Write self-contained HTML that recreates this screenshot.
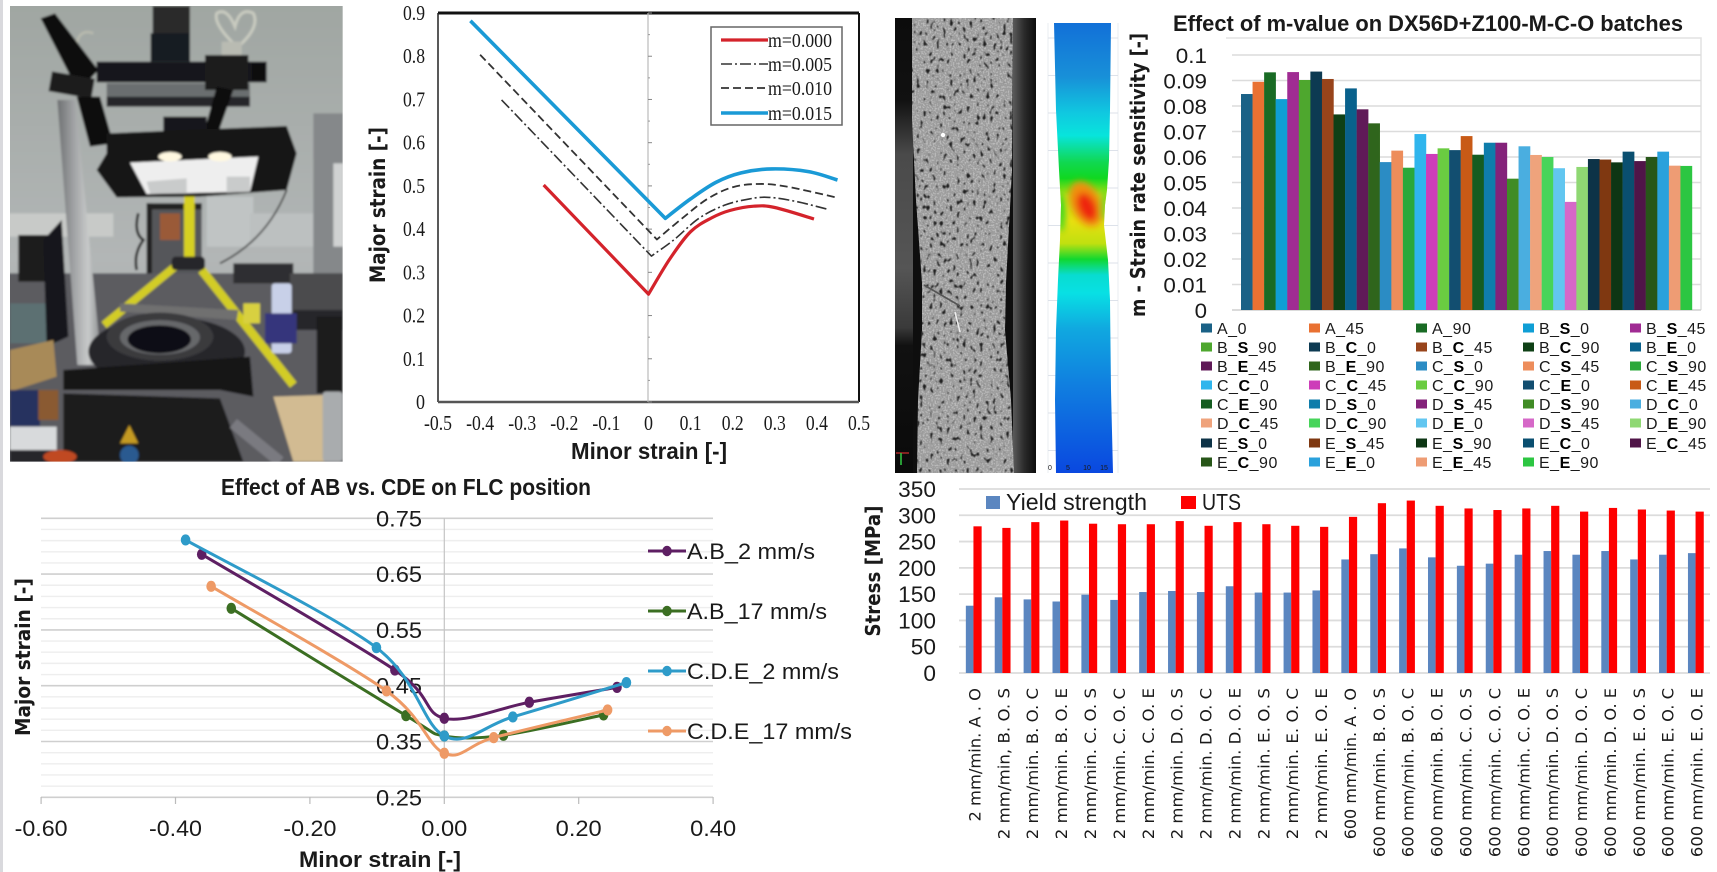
<!DOCTYPE html>
<html lang="en">
<head>
<meta charset="utf-8">
<title>Strain rate sensitivity and FLC figure</title>
<style>
html,body{margin:0;padding:0;background:#fff;width:1717px;height:872px;overflow:hidden}
svg{display:block}
text{font-family:"Liberation Sans",sans-serif;fill:#1a1a1a}
.serif{font-family:"Liberation Serif",serif}
.dj{font-family:"DejaVu Sans",sans-serif}
</style>
</head>
<body>
<svg id="fig" xmlns="http://www.w3.org/2000/svg" width="1717" height="872" viewBox="0 0 1717 872">
<defs>
<filter id="blur1" x="-5%" y="-5%" width="110%" height="110%"><feGaussianBlur stdDeviation="3.2"/></filter>
<filter id="blurHeat" x="-50%" y="-50%" width="200%" height="200%"><feGaussianBlur stdDeviation="3.5"/></filter>
<filter id="speck" x="0" y="0" width="100%" height="100%" color-interpolation-filters="sRGB">
<feTurbulence type="fractalNoise" baseFrequency="0.3 0.19" numOctaves="1" seed="7"/>
<feColorMatrix type="matrix" values="0 0 0 0 0.12  0 0 0 0 0.12  0 0 0 0 0.12  13 0 0 0 -8"/>
<feGaussianBlur stdDeviation="0.5"/>
</filter>
<filter id="grain" x="0" y="0" width="100%" height="100%" color-interpolation-filters="sRGB">
<feTurbulence type="fractalNoise" baseFrequency="0.6" numOctaves="1" seed="3"/>
<feColorMatrix type="matrix" values="0 0 0 0 0.95  0 0 0 0 0.95  0 0 0 0 0.95  5 0 0 0 -2.3"/>
</filter>
<linearGradient id="colGrad" x1="0" x2="1" y1="0" y2="0"><stop offset="0" stop-color="#6e7072"/><stop offset=".35" stop-color="#9ea0a2"/><stop offset=".7" stop-color="#c8caca"/><stop offset="1" stop-color="#85878a"/></linearGradient>
<linearGradient id="wallGrad" x1="0" x2="0" y1="0" y2="1"><stop offset="0" stop-color="#a0a6a2"/><stop offset=".55" stop-color="#b2b6b6"/><stop offset="1" stop-color="#a0a2a2"/></linearGradient>
<linearGradient id="heatGrad" x1="0" x2="0" y1="0" y2="1">
<stop offset="0" stop-color="#1270d8"/><stop offset=".12" stop-color="#1890d8"/><stop offset=".2" stop-color="#10c8e0"/><stop offset=".25" stop-color="#08e4dc"/><stop offset=".31" stop-color="#10d850"/><stop offset=".345" stop-color="#10d820"/><stop offset=".385" stop-color="#b8e010"/><stop offset=".44" stop-color="#e8e010"/><stop offset=".49" stop-color="#c0e010"/><stop offset=".525" stop-color="#10d830"/><stop offset=".56" stop-color="#08dcd0"/><stop offset=".6" stop-color="#08e0e4"/><stop offset=".68" stop-color="#10a8e0"/><stop offset=".8" stop-color="#1080e0"/><stop offset="1" stop-color="#0a48e0"/>
</linearGradient>
<linearGradient id="spLeft" x1="0" x2="0" y1="0" y2="1"><stop offset="0" stop-color="#0c0c0c"/><stop offset=".18" stop-color="#111"/><stop offset=".3" stop-color="#4a4a4a"/><stop offset=".55" stop-color="#555"/><stop offset=".68" stop-color="#3a3a3a"/><stop offset=".72" stop-color="#111"/><stop offset="1" stop-color="#0a0a0a"/></linearGradient>
<linearGradient id="spRight" x1="0" x2="1" y1="0" y2="0"><stop offset="0" stop-color="#5a5a5a"/><stop offset=".5" stop-color="#2a2a2a"/><stop offset="1" stop-color="#0c0c0c"/></linearGradient>
<clipPath id="photoClip"><rect x="30" y="18" width="998" height="1367"/></clipPath>
<clipPath id="specimenClip"><polygon points="912,18 1013,18 1012,170 1006,283 1005,330 1011,400 1014,473 917,473 918,400 922,330 922,283 916,200 912,120"/></clipPath>
<clipPath id="heatClip"><polygon points="1054,23 1111,23 1110,110 1109,160 1107,190 1105,205 1104,225 1108,260 1110,300 1111,390 1113,473 1056,473 1055,400 1056,330 1058,280 1060,240 1061,205 1059,170 1056,110"/></clipPath>
</defs>

<rect x="0" y="0" width="1717" height="872" fill="#fff"/>
<rect x="0" y="0" width="3" height="872" fill="#d9d9dd"/>

<!-- Photo of the test rig, painted from shapes. Coordinates are in 3x units. -->
<g transform="scale(0.33333)">
<g clip-path="url(#photoClip)"><g filter="url(#blur1)">
<rect x="20" y="10" width="1020" height="1390" fill="url(#wallGrad)"/>
<rect x="20" y="640" width="320" height="70" fill="#c8cac8"/>
<rect x="620" y="590" width="140" height="150" fill="#c0c4c4"/>
<rect x="750" y="640" width="190" height="100" fill="#bcc0c0"/>
<rect x="940" y="340" width="90" height="520" fill="#85888a"/>
<rect x="1000" y="490" width="30" height="250" fill="#d0d2d2"/>
<rect x="440" y="610" width="165" height="215" fill="#55565a"/>
<rect x="440" y="610" width="165" height="18" fill="#202022"/>
<rect x="440" y="610" width="16" height="215" fill="#202022"/>
<rect x="480" y="640" width="60" height="80" fill="#9a5a38"/>
<path d="M415,640 Q400,700 430,720 Q400,760 410,810" fill="none" stroke="#222" stroke-width="8"/>
<path d="M660,790 Q800,720 860,570" fill="none" stroke="#333" stroke-width="5"/>
<rect x="20" y="820" width="1010" height="580" fill="#5c5c60"/>
<rect x="55" y="705" width="130" height="140" fill="#1c1c1e"/>
<rect x="30" y="910" width="140" height="120" fill="#5c7072"/>
<polygon points="172,300 226,300 305,1095 232,1095" fill="url(#colGrad)"/>
<polygon points="130,720 185,660 205,1010 140,1040" fill="#17171a"/>
<rect x="700" y="790" width="180" height="60" fill="#2e2e30"/>
<rect x="870" y="820" width="160" height="120" fill="#4b4b4e"/>
<rect x="880" y="930" width="150" height="60" fill="#26262a"/>
<rect x="950" y="950" width="78" height="230" fill="#1c1c1e"/>
<path d="M700,130 Q640,70 650,40 Q680,20 705,80 Q720,20 760,40 Q780,80 720,135" fill="none" stroke="#c8cabf" stroke-width="9"/>
<rect x="665" y="125" width="60" height="45" fill="#b9bbb2"/>
<path d="M230,130 Q240,85 280,100" fill="none" stroke="#b8baae" stroke-width="8"/>
<rect x="458" y="18" width="112" height="85" fill="#2a2a2c"/>
<rect x="452" y="100" width="118" height="85" fill="#161a22"/>
<polygon points="122,55 165,40 295,210 235,275" fill="#111"/>
<rect x="150" y="225" width="130" height="60" fill="#1a1a1c" transform="rotate(10 215 255)"/>
<rect x="290" y="185" width="510" height="62" fill="#17171a"/>
<rect x="320" y="250" width="430" height="40" fill="#6a6e70"/>
<rect x="320" y="290" width="430" height="30" fill="#26262a"/>
<rect x="615" y="165" width="130" height="105" fill="#1c1c1e"/>
<rect x="755" y="190" width="40" height="50" fill="#111"/>
<polygon points="650,260 700,270 640,440 600,440" fill="#111"/>
<polygon points="230,290 300,290 340,430 270,440" fill="#111"/>
<rect x="490" y="350" width="130" height="60" fill="#17171a"/>
<polygon points="320,400 860,378 890,460 860,570 600,590 350,592 290,510 320,460" fill="#141416"/>
<polygon points="390,488 775,470 750,575 440,582" fill="#eeeeee"/>
<polygon points="440,545 560,535 560,580 450,580" fill="#c9cbcb"/>
<polygon points="680,530 750,530 750,575 680,578" fill="#c9cbcb"/>
<ellipse cx="510" cy="470" rx="35" ry="14" fill="#fff8e0"/>
<ellipse cx="660" cy="470" rx="35" ry="14" fill="#fff8e0"/>
<rect x="552" y="590" width="32" height="185" fill="#d6d020"/>
<line x1="525" y1="800" x2="312" y2="975" stroke="#d2cc28" stroke-width="24"/>
<line x1="605" y1="810" x2="880" y2="1155" stroke="#d2cc28" stroke-width="26"/>
<rect x="515" y="770" width="100" height="40" rx="12" fill="#26262a"/>
<polygon points="360,910 715,930 710,960 360,935" fill="#707070"/>
<rect x="815" y="850" width="60" height="210" rx="10" fill="#c8d0e8"/>
<rect x="795" y="940" width="95" height="90" fill="#34347c"/>
<rect x="730" y="910" width="50" height="60" fill="#d8d040"/>
<ellipse cx="500" cy="1055" rx="235" ry="105" fill="#26262a"/>
<ellipse cx="480" cy="1010" rx="160" ry="72" fill="#3a3a3e"/>
<ellipse cx="480" cy="1012" rx="120" ry="52" fill="#66676a"/>
<ellipse cx="478" cy="1018" rx="95" ry="42" fill="#111114"/>
<polygon points="30,1050 160,1020 170,1130 30,1175" fill="#a88a58"/>
<polygon points="190,1110 750,1070 760,1190 660,1170 190,1170" fill="#161618"/>
<path d="M190,1180 L660,1195 L730,1385 L190,1385 Z" fill="#1b1b1e"/>
<polygon points="820,1190 970,1185 975,1385 880,1385" fill="#d2bb92"/>
<line x1="700" y1="1270" x2="840" y2="1385" stroke="#7a7a80" stroke-width="34"/>
<rect x="968" y="1175" width="60" height="210" rx="10" fill="#a9acae"/>
<rect x="30" y="1170" width="90" height="110" fill="#25305e"/>
<rect x="115" y="1170" width="60" height="90" fill="#8a5a30"/>
<rect x="30" y="1280" width="140" height="70" fill="#d8dadc"/>
<rect x="30" y="1350" width="160" height="40" fill="#26262a"/>
<ellipse cx="180" cy="1370" rx="50" ry="20" fill="#c04a20"/>
<polygon points="388,1275 415,1330 360,1330" fill="#c49a24"/>
<circle cx="388" cy="1365" r="28" fill="#2a5a90"/>
</g></g>
</g>

<!-- FLC simulated chart -->
<g id="flcModel">
<line x1="438" y1="13" x2="859" y2="13" stroke="#111" stroke-width="3"/>
<line x1="859" y1="13" x2="859" y2="402" stroke="#111" stroke-width="2"/>
<line x1="438" y1="13" x2="438" y2="402" stroke="#222" stroke-width="1.5"/>
<line x1="438" y1="402" x2="859" y2="402" stroke="#555" stroke-width="2.5"/>
<line x1="648" y1="13" x2="648" y2="402" stroke="#bbb" stroke-width="1.2"/>
<text class="dj" font-weight="700" font-size="21" transform="translate(385,205) rotate(-90)" text-anchor="middle" textLength="156" lengthAdjust="spacingAndGlyphs">Major strain [-]</text>
<text font-weight="700" font-size="23" x="649" y="459" text-anchor="middle" textLength="156" lengthAdjust="spacingAndGlyphs">Minor strain [-]</text>
<rect x="711" y="27" width="131" height="98" fill="#fff" stroke="#666" stroke-width="1.5"/>
</g>

<!-- DIC speckle image -->
<g>
<rect x="895" y="18" width="141" height="455" fill="#0e0e0e"/>
<rect x="895" y="18" width="18" height="455" fill="url(#spLeft)"/>
<rect x="1013" y="18" width="23" height="455" fill="url(#spRight)"/>
<polygon points="912,18 1013,18 1012,170 1006,283 1005,330 1011,400 1014,473 917,473 918,400 922,330 922,283 916,200 912,120" fill="#9c9c9c"/>
<g clip-path="url(#specimenClip)">
<rect x="905" y="18" width="115" height="455" filter="url(#grain)" opacity=".35"/>
<rect x="905" y="18" width="115" height="455" filter="url(#speck)"/>
<line x1="924" y1="285" x2="960" y2="306" stroke="#555" stroke-width="1.6"/>
<line x1="955" y1="312" x2="960" y2="332" stroke="#eee" stroke-width="1.5"/>
<circle cx="943" cy="135" r="2.2" fill="#fff"/>
</g>
<line x1="896" y1="453" x2="909" y2="453" stroke="#d03030" stroke-width="1.2"/>
<line x1="901" y1="453" x2="901" y2="465" stroke="#30c040" stroke-width="1.6"/>
</g>

<!-- Strain heat map -->
<g>
<line x1="1048" y1="23" x2="1048" y2="473" stroke="#e8ecf2" stroke-width="1"/>
<line x1="1118" y1="23" x2="1118" y2="473" stroke="#e8ecf2" stroke-width="1"/>
<g id="heatGridLines"></g>
<polygon points="1054,23 1111,23 1110,110 1109,160 1107,190 1105,205 1104,225 1108,260 1110,300 1111,390 1113,473 1056,473 1055,400 1056,330 1058,280 1060,240 1061,205 1059,170 1056,110" fill="url(#heatGrad)"/>
<g clip-path="url(#heatClip)"><g filter="url(#blurHeat)">
<ellipse cx="1086" cy="204" rx="15" ry="24" fill="#f09010" transform="rotate(-25 1086 204)"/>
<ellipse cx="1087" cy="207" rx="9" ry="15" fill="#ee2808" transform="rotate(-25 1087 207)"/>
<ellipse cx="1061" cy="212" rx="4" ry="20" fill="#30d820"/>
<ellipse cx="1104" cy="206" rx="3" ry="16" fill="#50d820"/>
</g></g>
<text font-size="7" x="1050" y="470" text-anchor="middle" fill="#666">0</text>
<text font-size="7" x="1068" y="470" text-anchor="middle" fill="#333">5</text>
<text font-size="7" x="1087" y="470" text-anchor="middle" fill="#333">10</text>
<text font-size="7" x="1104" y="470" text-anchor="middle" fill="#333">15</text>
</g>

<!-- m-value bar chart -->
<g id="mBars">
<text font-weight="700" font-size="22" x="1428" y="31" text-anchor="middle" textLength="510" lengthAdjust="spacingAndGlyphs">Effect of m-value on DX56D+Z100-M-C-O batches</text>
<text class="dj" font-weight="700" font-size="20" transform="translate(1145,175) rotate(-90)" text-anchor="middle" textLength="284" lengthAdjust="spacingAndGlyphs">m - Strain rate sensitivity [-]</text>
<polyline points="1226,38 1701,38 1701,310" fill="none" stroke="#e2e2e2" stroke-width="1.5"/>
</g>

<!-- FLC experimental chart -->
<g id="flcExp">
<text font-weight="700" font-size="23" x="406" y="495" text-anchor="middle" textLength="370" lengthAdjust="spacingAndGlyphs">Effect of AB vs. CDE on FLC position</text>
<text class="dj" font-weight="700" font-size="20" transform="translate(30,657) rotate(-90)" text-anchor="middle" textLength="158" lengthAdjust="spacingAndGlyphs">Major strain [-]</text>
<text font-weight="700" font-size="22" x="380" y="867" text-anchor="middle" textLength="162" lengthAdjust="spacingAndGlyphs">Minor strain [-]</text>
</g>

<!-- Stress bar chart -->
<g id="stress">
<text class="dj" font-weight="700" font-size="20" transform="translate(880,571) rotate(-90)" text-anchor="middle" textLength="131" lengthAdjust="spacingAndGlyphs">Stress [MPa]</text>
</g>

<script>
// ---- Chart data -------------------------------------------------------
const flcModelXTicks = ['-0.5','-0.4','-0.3','-0.2','-0.1','0','0.1','0.2','0.3','0.4','0.5'];
const flcModelYTicks = ['0','0.1','0.2','0.3','0.4','0.5','0.6','0.7','0.8','0.9'];
const flcModelNames = ['m=0.000','m=0.005','m=0.010','m=0.015'];
const m000x = [-0.249,0,0.05,0.1,0.15,0.193,0.25,0.3,0.393];
const m000y = [0.502,0.2495,0.33,0.394,0.426,0.443,0.453,0.45,0.4235];
const m005x = [-0.349,0.007,0.06,0.12,0.18,0.24,0.287,0.353,0.423];
const m005y = [0.699,0.3376,0.375,0.425,0.455,0.47,0.4735,0.4635,0.4465];
const m010x = [-0.4,0.02,0.08,0.14,0.2,0.26,0.327,0.449];
const m010y = [0.8035,0.376,0.425,0.47,0.497,0.5045,0.4985,0.4727];
const m015x = [-0.423,0.04,0.1,0.16,0.22,0.293,0.38,0.449];
const m015y = [0.882,0.4249,0.47,0.508,0.53,0.5394,0.533,0.5137];

const mBarTicks = ['0','0.01','0.02','0.03','0.04','0.05','0.06','0.07','0.08','0.09','0.1'];
const mBarCategories = ['A_0','A_45','A_90','B_S_0','B_S_45','B_S_90','B_C_0','B_C_45','B_C_90','B_E_0','B_E_45','B_E_90','C_S_0','C_S_45','C_S_90','C_C_0','C_C_45','C_C_90','C_E_0','C_E_45','C_E_90','D_S_0','D_S_45','D_S_90','D_C_0','D_C_45','D_C_90','D_E_0','D_S_45','D_E_90','E_S_0','E_S_45','E_S_90','E_C_0','E_C_45','E_C_90','E_E_0','E_E_45','E_E_90'];
const mBarValues = [0.0847,0.0895,0.0932,0.0827,0.0933,0.0902,0.0935,0.0906,0.0767,0.0869,0.0787,0.0732,0.058,0.0625,0.0558,0.069,0.0612,0.0634,0.0627,0.0682,0.0609,0.0656,0.0656,0.0515,0.0642,0.0608,0.06,0.0556,0.0424,0.0561,0.0592,0.059,0.0579,0.0621,0.0584,0.06,0.0621,0.0566,0.0565];
const mBarColors = ['#1a6186','#e97132','#196b24','#0f9ed5','#a02b93','#4ea72e','#0d3a52','#98441b','#0f4016','#09618c','#601a58','#2f651c','#2b8cc4','#ed8d5b','#2aa83a','#2fb5ed','#cd3db9','#6acc41','#124e70','#c85a16','#155c20','#0f7dab','#84227a','#408c26','#4aaee0','#efa37c','#47d45a','#62c6f0','#d668c8','#8fd873','#0d3347','#7f3811','#0d3614','#0a4f70','#501548','#275618','#2aa1dc','#ee9c74','#2cc642'];

const expXTicks = ['-0.60','-0.40','-0.20','0.00','0.20','0.40'];
const expYTicks = ['0.25','0.35','0.45','0.55','0.65','0.75'];
const expNames = ['A.B_2 mm/s','A.B_17 mm/s','C.D.E_2 mm/s','C.D.E_17 mm/s'];
const ab2x = [-0.361,-0.0735,0,0.1265,0.257];
const ab2y = [0.6855,0.478,0.3916,0.4203,0.447];
const ab17x = [-0.317,-0.057,0,0.088,0.237];
const ab17y = [0.5887,0.3964,0.3599,0.3611,0.3976];
const cde2x = [-0.385,-0.101,0,0.102,0.271];
const cde2y = [0.7112,0.5182,0.3599,0.394,0.4555];
const cde17x = [-0.347,-0.086,0,0.0735,0.243];
const cde17y = [0.6281,0.4406,0.3289,0.3569,0.4065];

const stressTicks = ['0','50','100','150','200','250','300','350'];
const stressCategories = ['2 mm/min. A . O','2 mm/min, B. O. S','2 mm/min. B. O. C','2 mm/min. B. O. E','2 mm/min. C. O. S','2 mm/min. C. O. C','2 mm/min. C. O. E','2 mm/min. D. O. S','2 mm/min. D. O. C','2 mm/min. D. O. E','2 mm/min. E. O. S','2 mm/min. E. O. C','2 mm/min. E. O. E','600 mm/min. A . O','600 mm/min. B. O. S','600 mm/min. B. O. C','600 mm/min. B. O. E','600 mm/min. C. O. S','600 mm/min. C. O. C','600 mm/min. C. O. E','600 mm/min. D. O. S','600 mm/min. D. O. C','600 mm/min. D. O. E','600 mm/min. E. O. S','600 mm/min. E. O. C','600 mm/min. E. O. E'];
const yieldValues = [128,144,140,136,149,139,154,156,154,165,153,153,157,216,226,237,220,204,208,225,232,225,232,216,225,228];
const utsValues = [279,276,287,290,284,283,283,289,280,287,283,280,278,297,323,328,318,313,310,313,318,307,314,311,309,307];

// ---- Helpers ----------------------------------------------------------
const NS = 'http://www.w3.org/2000/svg';
function mk(tag, parent, attrs) {
  const node = document.createElementNS(NS, tag);
  for (const k in attrs) node.setAttribute(k, attrs[k]);
  parent.appendChild(node);
  return node;
}
function spline(pts, tension) {
  let d = '';
  for (let i = 0; i < pts.length - 1; i++) {
    const p0 = pts[Math.max(i - 1, 0)], p1 = pts[i], p2 = pts[i + 1], p3 = pts[Math.min(i + 2, pts.length - 1)];
    const c1x = p1[0] + (p2[0] - p0[0]) * tension, c1y = p1[1] + (p2[1] - p0[1]) * tension;
    const c2x = p2[0] - (p3[0] - p1[0]) * tension, c2y = p2[1] - (p3[1] - p1[1]) * tension;
    d += ' C' + c1x.toFixed(1) + ',' + c1y.toFixed(1) + ' ' + c2x.toFixed(1) + ',' + c2y.toFixed(1) + ' ' + p2[0].toFixed(1) + ',' + p2[1].toFixed(1);
  }
  return d;
}

// ---- Heatmap faint grid ----------------------------------------------
(function () {
  const g = document.getElementById('heatGridLines');
  for (let i = 0; i < 12; i++) {
    const ln = mk('line', g, { x1: 1048, x2: 1118, y1: 38 + i * 37.5, y2: 38 + i * 37.5, stroke: '#dde2ea', 'stroke-width': 1 });
    
    
  }
})();

// ---- FLC model chart --------------------------------------------------
(function () {
  const g = document.getElementById('flcModel');
  const sx = v => 648.5 + v * 421;
  const sy = v => 402 - v * 432.2;
  flcModelYTicks.forEach(t => {
    const y = sy(parseFloat(t));
    const tick = mk('line', g, { x1: 648, x2: 652, y1: y, y2: y, stroke: '#888', 'stroke-width': 1 });
    
    
    const half = mk('line', g, { x1: 648, x2: 650, y1: y - 21.6, y2: y - 21.6, stroke: '#999', 'stroke-width': 1 });
    
    
    const lab = mk('text', g, { x: 425, y: y + 7, 'text-anchor': 'end', 'font-size': 21, class: 'serif', textLength: t.length > 1 ? 22 : 9, lengthAdjust: 'spacingAndGlyphs' });
    lab.textContent = t;
    
    
  });
  flcModelXTicks.forEach(t => {
    const x = sx(parseFloat(t));
    const w = t.length > 3 ? 28 : (t.length > 1 ? 22 : 9);
    const lab = mk('text', g, { x: x, y: 430, 'text-anchor': 'middle', 'font-size': 21, class: 'serif', textLength: w, lengthAdjust: 'spacingAndGlyphs' });
    lab.textContent = t;
    
    
  });
  const styles = [
    { stroke: '#d4232b', w: 3.2, dash: '' },
    { stroke: '#333', w: 1.6, dash: '11 3 2 3' },
    { stroke: '#333', w: 1.8, dash: '8 4' },
    { stroke: '#1a9ad6', w: 3.6, dash: '' }
  ];
  const xs = [m000x, m005x, m010x, m015x];
  const ys = [m000y, m005y, m010y, m015y];
  xs.forEach((xv, i) => {
    const pts = xv.map((v, j) => [sx(v), sy(ys[i][j])]);
    // Each curve is a straight run into the plane-strain cusp, then a smooth arc.
    const d = 'M' + pts[0][0] + ',' + pts[0][1] + ' L' + pts[1][0] + ',' + pts[1][1] + spline(pts.slice(1), 0.17);
    const line = mk('path', g, { d: d, fill: 'none', stroke: styles[i].stroke, 'stroke-width': styles[i].w, 'stroke-dasharray': styles[i].dash, 'stroke-linejoin': 'round' });
    
    
    const ly = [40, 64, 88, 113][i];
    const key = mk('line', g, { x1: 721, x2: 768, y1: ly, y2: ly, stroke: styles[i].stroke, 'stroke-width': styles[i].w, 'stroke-dasharray': styles[i].dash });
    
    
    const lab = mk('text', g, { x: 768, y: ly + 7, 'font-size': 20, class: 'serif', textLength: 64, lengthAdjust: 'spacingAndGlyphs' });
    lab.textContent = flcModelNames[i];
    
    
  });
})();

// ---- m-value bars -----------------------------------------------------
(function () {
  const g = document.getElementById('mBars');
  const y0 = 310, unit = 2550;
  const sy = v => y0 - v * unit;
  const left = 1241, bw = (1692 - 1241) / mBarValues.length;
  mBarTicks.forEach(t => {
    const y = sy(parseFloat(t));
    const grid = mk('line', g, { x1: 1232, x2: 1701, y1: y, y2: y, stroke: t === '0' ? '#cfcfcf' : '#dcdcdc', 'stroke-width': 1.6 });
    
    
    const w = 12.4 * t.length + (t.length > 1 ? -6 : 0);
    const lab = mk('text', g, { x: 1207, y: y + 8, 'text-anchor': 'end', 'font-size': 21, textLength: w, lengthAdjust: 'spacingAndGlyphs' });
    lab.textContent = t;
    
    
  });
  mBarValues.forEach((v, i) => {
    const bar = mk('rect', g, { x: left + i * bw, y: sy(v), width: bw + 0.2, height: v * unit, fill: mBarColors[i] });
    
    
  });
  const colX = [1201, 1309, 1416, 1523, 1630];
  const rowY = [328, 347, 366, 385, 404, 423, 443, 462];
  mBarCategories.forEach((name, i) => {
    const cx = colX[i % 5], cy = rowY[Math.floor(i / 5)];
    const sw = mk('rect', g, { x: cx, y: cy - 4.5, width: 11, height: 9, fill: mBarColors[i] });
    
    
    const lab = mk('text', g, { x: cx + 16, y: cy + 6, 'font-size': 16, 'letter-spacing': 0.5, fill: '#333' });
    
    
    const parts = name.split('_');
    if (parts.length === 3) {
      mk('tspan', lab, {}).textContent = parts[0] + '_';
      mk('tspan', lab, { 'font-weight': 700, fill: '#000' }).textContent = parts[1];
      mk('tspan', lab, {}).textContent = '_' + parts[2];
    } else {
      lab.textContent = name;
    }
  });
})();

// ---- FLC experimental -------------------------------------------------
(function () {
  const g = document.getElementById('flcExp');
  const sx = v => 444.3 + v * 672;
  const sy = v => 797.3 - (v - 0.25) * 558;
  for (let k = 0; k <= 25; k++) {
    const v = 0.25 + k * 0.02;
    const major = k % 5 === 0;
    const grid = mk('line', g, { x1: 41, x2: 713, y1: sy(v), y2: sy(v), stroke: major ? '#cfcfcf' : '#eeeeee', 'stroke-width': major ? 1.6 : 1.4 });
    
    
  }
  const axis = mk('line', g, { x1: 444.3, x2: 444.3, y1: sy(0.75), y2: sy(0.25), stroke: '#c4c4c4', 'stroke-width': 1.2 });
  
  
  expXTicks.forEach(t => {
    const x = sx(parseFloat(t));
    const tick = mk('line', g, { x1: x, x2: x, y1: 797, y2: 804, stroke: '#bbb', 'stroke-width': 1.2 });
    
    
    const lab = mk('text', g, { x: x, y: 836, 'text-anchor': 'middle', 'font-size': 22, textLength: t.length > 4 ? 53 : 46, lengthAdjust: 'spacingAndGlyphs', fill: '#333' });
    lab.textContent = t;
    
    
  });
  expYTicks.forEach(t => {
    const y = sy(parseFloat(t));
    const lab = mk('text', g, { x: 422, y: y + 8, 'text-anchor': 'end', 'font-size': 22, textLength: 46, lengthAdjust: 'spacingAndGlyphs', fill: '#333' });
    lab.textContent = t;
    
    
  });
  const colors = ['#5e1f63', '#3b6e22', '#2e9bc9', '#ee9a66'];
  const xs = [ab2x, ab17x, cde2x, cde17x];
  const ys = [ab2y, ab17y, cde2y, cde17y];
  const legendY = [551, 611, 671, 731];
  const legendW = [128, 140, 152, 165];
  xs.forEach((xv, i) => {
    const pts = xv.map((v, j) => [sx(v), sy(ys[i][j])]);
    const line = mk('path', g, { d: 'M' + pts[0][0] + ',' + pts[0][1] + spline(pts, 0.16), fill: 'none', stroke: colors[i], 'stroke-width': 3 });
    
    
    pts.forEach(p => {
      const dot = mk('ellipse', g, { cx: p[0], cy: p[1], rx: 4.8, ry: 5.6, fill: colors[i] });
      
      
    });
    const key = mk('line', g, { x1: 648, x2: 686, y1: legendY[i], y2: legendY[i], stroke: colors[i], 'stroke-width': 3 });
    
    
    const kd = mk('ellipse', g, { cx: 667, cy: legendY[i], rx: 4.8, ry: 5.2, fill: colors[i] });
    
    
    const lab = mk('text', g, { x: 687, y: legendY[i] + 8, 'font-size': 22, textLength: legendW[i], lengthAdjust: 'spacingAndGlyphs', fill: '#333' });
    lab.textContent = expNames[i];
    
    
  });
})();

// ---- Stress bars ------------------------------------------------------
(function () {
  const g = document.getElementById('stress');
  const y0 = 673, unit = 184 / 350;
  const sy = v => y0 - v * unit;
  const left = 959, step = (1710 - 959) / stressCategories.length;
  stressTicks.forEach(t => {
    const y = sy(parseFloat(t));
    const grid = mk('line', g, { x1: 959, x2: 1710, y1: y, y2: y, stroke: '#dcdcdc', 'stroke-width': 1.8 });
    
    
    const lab = mk('text', g, { x: 936, y: y + 8, 'text-anchor': 'end', 'font-size': 22, textLength: t.length * 12.6, lengthAdjust: 'spacingAndGlyphs', fill: '#222' });
    lab.textContent = t;
    
    
  });
  stressCategories.forEach((name, i) => {
    const c = left + (i + 0.5) * step;
    const by = mk('rect', g, { x: c - 7.6, y: sy(yieldValues[i]), width: 7.6, height: yieldValues[i] * unit, fill: '#5b86c0' });
    
    
    const bu = mk('rect', g, { x: c, y: sy(utsValues[i]), width: 8.2, height: utsValues[i] * unit, fill: '#fe0000' });
    
    
    const lab = mk('text', g, { class: 'dj', 'font-size': 16, 'text-anchor': 'end', transform: 'translate(' + (c + 7) + ',688) rotate(-90)', textLength: name.length * 8.9, lengthAdjust: 'spacingAndGlyphs', fill: '#333' });
    lab.textContent = name;
    
    
  });
  const s1 = mk('rect', g, { x: 986, y: 496, width: 14, height: 13, fill: '#5b86c0' });
  
  
  const t1 = mk('text', g, { x: 1006, y: 510, 'font-size': 23, textLength: 141, lengthAdjust: 'spacingAndGlyphs', fill: '#666' });
  t1.textContent = 'Yield strength';
  
  
  const s2 = mk('rect', g, { x: 1181, y: 496, width: 15, height: 13, fill: '#fe0000' });
  
  
  const t2 = mk('text', g, { x: 1202, y: 510, 'font-size': 23, textLength: 39, lengthAdjust: 'spacingAndGlyphs', fill: '#666' });
  t2.textContent = 'UTS';
  
  
})();
</script>
</svg>
</body>
</html>
